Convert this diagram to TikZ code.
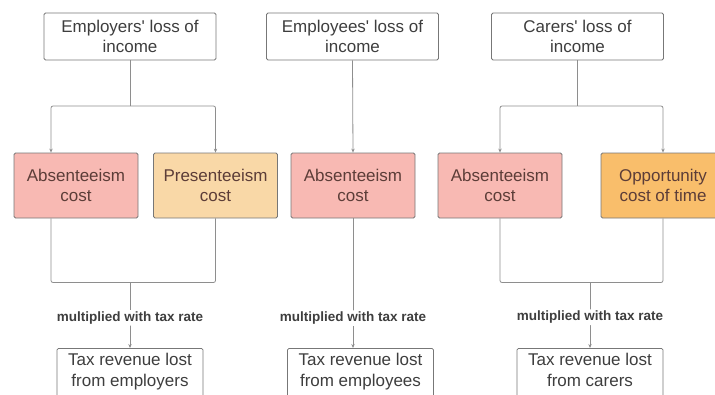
\documentclass[tikz,border=0pt]{standalone}
\usepackage{fontspec}
\newfontfamily\diagfont{Liberation Sans}
\usetikzlibrary{arrows.meta,positioning}

\definecolor{absred}{HTML}{F8B9B3}
\definecolor{presorange}{HTML}{F9D8A7}
\definecolor{opporange}{HTML}{F9BE6B}
\definecolor{edgegray}{HTML}{777777}
\definecolor{linegray}{HTML}{8E8E8E}
\definecolor{txtgray}{HTML}{3E3E3E}
\definecolor{txtbrown}{HTML}{5C3D38}

\begin{document}
\begin{tikzpicture}[x=1pt, y=-1pt, >={Stealth[length=4pt,width=3.4pt]},
  every node/.style={font=\diagfont\fontsize{17}{20.5}\selectfont, align=center},
  lossbox/.style={draw=edgegray, line width=0.8pt, rounded corners=1.5pt, fill=white,
    text=txtgray, minimum width=172pt, minimum height=47pt, inner sep=0pt},
  costbox/.style={draw=edgegray, line width=0.8pt, rounded corners=1.5pt,
    text=txtbrown, minimum width=124pt, minimum height=65pt, inner sep=0pt},
  taxbox/.style={lossbox, anchor=north, minimum width=146pt, minimum height=56pt,
    text depth=13pt},
  flow/.style={draw=linegray, line width=0.8pt, rounded corners=2pt},
  taxlabel/.style={font=\diagfont\fontsize{13.5}{16}\selectfont\bfseries, text=txtgray,
    fill=white, inner sep=1.5pt}]
  \clip (0,0) rectangle (715,394);
  \useasboundingbox (0,0) rectangle (715,394);

  % sources of lost income
  \node[lossbox] (emp)  at (130,36.5)   {Employers' loss of\\income};
  \node[lossbox] (empl) at (352.5,36.5) {Employees' loss of\\income};
  \node[lossbox] (car)  at (577.5,36.5) {Carers' loss of\\income};

  % cost components
  \node[costbox, fill=absred]     (empAbs)  at (76,185.5)  {Absenteeism\\cost};
  \node[costbox, fill=presorange] (empPres) at (215.5,185.5) {Presenteeism\\cost};
  \node[costbox, fill=absred]     (emplAbs) at (353,185.5) {Absenteeism\\cost};
  \node[costbox, fill=absred]     (carAbs)  at (500,185.5) {Absenteeism\\cost};
  \node[costbox, fill=opporange]  (carOpp)  at (663,185.5) {Opportunity\\cost of time};

  % lost tax revenue (boxes run past the lower edge)
  \node[taxbox] (empTax)  at (130,348) {Tax revenue lost\\from employers};
  \node[taxbox] (emplTax) at (360.5,348) {Tax revenue lost\\from employees};
  \node[taxbox] (carTax)  at (590,348) {Tax revenue lost\\from carers};

  % branch and join points
  \coordinate (empSplit) at (130,106);
  \coordinate (carSplit) at (577.5,106);
  \coordinate (empJoin)  at (130,282.5);
  \coordinate (carJoin)  at (590,282.5);

  % employers
  \draw[flow] (emp.south) -- (empSplit);
  \draw[flow,->] (empSplit) -| ([xshift=-25pt]empAbs.north);
  \draw[flow,->] (empSplit) -| (empPres.north);
  \draw[flow] ([xshift=-25pt]empAbs.south) |- (empJoin);
  \draw[flow] (empPres.south) |- (empJoin);
  \draw[flow,->] (empJoin) -- (empTax.north)
    node[taxlabel, pos=0.54] (empRate) {multiplied with tax rate};

  % employees
  \draw[flow,->] (empl.south) -- (emplAbs.north);
  \draw[flow,->] (emplAbs.south) -- ([xshift=-7.5pt]emplTax.north)
    node[taxlabel, pos=0.77] (emplRate) {multiplied with tax rate};

  % carers
  \draw[flow] (car.south) -- (carSplit);
  \draw[flow,->] (carSplit) -| (carAbs.north);
  \draw[flow,->] (carSplit) -| (carOpp.north);
  \draw[flow] (carAbs.south) |- (carJoin);
  \draw[flow] (carOpp.south) |- (carJoin);
  \draw[flow,->] (carJoin) -- (carTax.north)
    node[taxlabel, pos=0.53] (carRate) {multiplied with tax rate};
\end{tikzpicture}
\end{document}
